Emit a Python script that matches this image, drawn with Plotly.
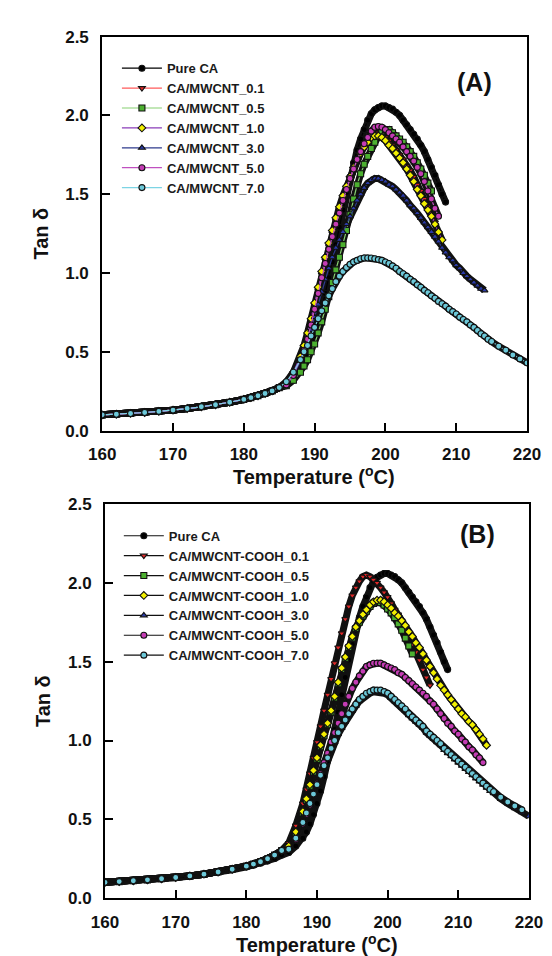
import plotly.graph_objects as go

# ---------------- data ----------------
temp = [160, 162, 164, 166, 168, 170, 172, 174, 176, 178, 180, 181, 182, 183, 184, 185, 186, 187,
        188, 188.5, 189, 189.5, 190, 190.5, 191, 191.5, 192, 192.5, 193, 193.5, 194, 194.5,
        195, 195.5, 196, 196.5, 197, 197.5, 198, 198.5, 199, 199.5, 200, 200.5, 201, 201.5,
        202, 202.5, 203, 203.5, 204, 204.5, 205, 205.5, 206, 206.5, 207, 207.5, 208, 208.5,
        209, 209.5, 210, 210.5, 211, 211.5, 212, 212.5, 213, 213.5, 214, 214.5, 215,
        216, 217, 218, 219, 220]

# tan delta at 160..185 (common low-temperature part)
low_a = [0.100, 0.104, 0.109, 0.115, 0.122, 0.130, 0.140, 0.151, 0.164, 0.180, 0.198,
         0.209, 0.221, 0.235, 0.252, 0.273]
low_b = [0.100, 0.105, 0.110, 0.116, 0.123, 0.131, 0.141, 0.152, 0.166, 0.183, 0.203,
         0.216, 0.231, 0.250, 0.273, 0.302]

# values from 186 onward
pure_ca = low_a + [0.29, 0.33,
    0.38, 0.42, 0.47, 0.53, 0.60, 0.68, 0.77, 0.87, 0.97, 1.07, 1.18, 1.29, 1.40, 1.51,
    1.61, 1.70, 1.78, 1.85, 1.91, 1.97, 2.01, 2.035, 2.05, 2.06, 2.06, 2.05, 2.04, 2.02,
    2.00, 1.97, 1.94, 1.91, 1.88, 1.85, 1.81, 1.77, 1.72, 1.67, 1.62, 1.56, 1.50, 1.45]

a_01 = low_a + [0.29, 0.36,
    0.46, 0.52, 0.60, 0.69, 0.79, 0.89, 0.99, 1.08, 1.17, 1.25, 1.33, 1.40, 1.47, 1.54,
    1.60, 1.66, 1.72, 1.77, 1.81, 1.85, 1.88, 1.89, 1.89, 1.88, 1.86, 1.84, 1.81, 1.78,
    1.75, 1.72, 1.68, 1.65, 1.61, 1.56, 1.52, 1.47, 1.42, 1.37, 1.32]

a_05 = low_a + [0.285, 0.32,
    0.37, 0.41, 0.45, 0.50, 0.55, 0.62, 0.69, 0.77, 0.85, 0.94, 1.02, 1.10, 1.18, 1.27,
    1.37, 1.47, 1.56, 1.63, 1.69, 1.74, 1.79, 1.83, 1.87, 1.90, 1.91, 1.91, 1.89, 1.87,
    1.85, 1.83, 1.80, 1.77, 1.74, 1.70, 1.66, 1.62, 1.57, 1.52]

a_10 = low_a + [0.30, 0.37,
    0.47, 0.54, 0.62, 0.71, 0.81, 0.91, 1.01, 1.10, 1.19, 1.27, 1.35, 1.42, 1.49, 1.55,
    1.61, 1.67, 1.72, 1.76, 1.80, 1.83, 1.86, 1.87, 1.87, 1.86, 1.84, 1.81, 1.79, 1.76,
    1.73, 1.70, 1.66, 1.62, 1.58, 1.53, 1.49, 1.44, 1.40, 1.36, 1.31, 1.26, 1.21]

a_30 = low_a + [0.29, 0.35,
    0.44, 0.50, 0.57, 0.64, 0.72, 0.80, 0.88, 0.96, 1.03, 1.10, 1.16, 1.21, 1.26, 1.31,
    1.36, 1.41, 1.46, 1.50, 1.54, 1.57, 1.59, 1.60, 1.60, 1.59, 1.58, 1.56, 1.55, 1.53,
    1.51, 1.49, 1.46, 1.43, 1.41, 1.38, 1.35, 1.32, 1.29, 1.26, 1.23, 1.20, 1.16, 1.13,
    1.10, 1.08, 1.05, 1.03, 1.00, 0.98, 0.96, 0.94, 0.92, 0.90, 0.89]

a_50 = low_a + [0.29, 0.35,
    0.45, 0.51, 0.58, 0.67, 0.77, 0.87, 0.97, 1.06, 1.15, 1.23, 1.31, 1.38, 1.46, 1.53,
    1.60, 1.66, 1.72, 1.77, 1.82, 1.86, 1.90, 1.925, 1.93, 1.925, 1.91, 1.89, 1.87, 1.85,
    1.83, 1.80, 1.77, 1.74, 1.71, 1.67, 1.63, 1.58, 1.52, 1.47, 1.41, 1.36]

a_70 = low_a + [0.31, 0.37,
    0.45, 0.50, 0.54, 0.60, 0.655, 0.71, 0.76, 0.81, 0.855, 0.90, 0.945, 0.98, 1.01, 1.035,
    1.055, 1.07, 1.08, 1.09, 1.095, 1.095, 1.095, 1.09, 1.085, 1.08, 1.07, 1.06, 1.045, 1.03,
    1.01, 0.995, 0.98, 0.96, 0.945, 0.925, 0.91, 0.89, 0.875, 0.855, 0.84, 0.82, 0.805, 0.79,
    0.77, 0.755, 0.74, 0.72, 0.705, 0.69, 0.67, 0.655, 0.635, 0.615, 0.60, 0.58, 0.565,
    0.535, 0.51, 0.48, 0.455, 0.43]

b_01 = low_b + [0.35, 0.46,
    0.60, 0.69, 0.79, 0.89, 0.99, 1.09, 1.19, 1.29, 1.39, 1.49, 1.59, 1.68, 1.77, 1.85,
    1.92, 1.97, 2.01, 2.04, 2.05, 2.04, 2.02, 2.00, 1.97, 1.94, 1.91, 1.87, 1.83, 1.80,
    1.76, 1.71, 1.66, 1.61, 1.56, 1.51, 1.45, 1.40, 1.35]

b_05 = low_b + [0.32, 0.41,
    0.54, 0.62, 0.71, 0.80, 0.88, 0.96, 1.03, 1.10, 1.18, 1.27, 1.36, 1.45, 1.52, 1.59,
    1.65, 1.71, 1.75, 1.79, 1.82, 1.85, 1.87, 1.88, 1.875, 1.86, 1.835, 1.81, 1.78, 1.74,
    1.70, 1.65, 1.60, 1.55]

b_10 = low_b + [0.33, 0.42,
    0.55, 0.63, 0.72, 0.81, 0.89, 0.97, 1.04, 1.11, 1.19, 1.28, 1.37, 1.46, 1.53, 1.60,
    1.66, 1.72, 1.76, 1.80, 1.83, 1.86, 1.88, 1.89, 1.89, 1.88, 1.86, 1.84, 1.81, 1.79,
    1.76, 1.73, 1.69, 1.66, 1.62, 1.59, 1.55, 1.51, 1.47, 1.43, 1.39, 1.35, 1.32, 1.29,
    1.26, 1.23, 1.20, 1.17, 1.15, 1.12, 1.10, 1.07, 1.04, 1.01, 0.97]

b_30 = low_b + [0.30, 0.37,
    0.47, 0.53, 0.59, 0.65, 0.71, 0.77, 0.83, 0.88, 0.94, 0.99, 1.04, 1.08, 1.12, 1.16,
    1.19, 1.22, 1.25, 1.27, 1.29, 1.30, 1.31, 1.31, 1.31, 1.30, 1.29, 1.27, 1.25, 1.23,
    1.21, 1.19, 1.16, 1.14, 1.12, 1.10, 1.08, 1.05, 1.03, 1.01, 0.99, 0.97, 0.94, 0.92,
    0.90, 0.88, 0.86, 0.84, 0.82, 0.80, 0.78, 0.76, 0.74, 0.72, 0.70, 0.68, 0.665,
    0.63, 0.60, 0.57, 0.545, 0.52]

b_50 = low_b + [0.31, 0.37,
    0.47, 0.53, 0.59, 0.66, 0.73, 0.79, 0.86, 0.92, 0.99, 1.05, 1.11, 1.17, 1.23, 1.28,
    1.33, 1.37, 1.41, 1.44, 1.47, 1.48, 1.49, 1.49, 1.49, 1.48, 1.47, 1.46, 1.45, 1.43,
    1.42, 1.40, 1.38, 1.36, 1.34, 1.32, 1.30, 1.28, 1.25, 1.23, 1.20, 1.17, 1.14, 1.11,
    1.09, 1.06, 1.04, 1.01, 0.99, 0.96, 0.94, 0.91, 0.89, 0.86]

b_70 = low_b + [0.31, 0.38,
    0.48, 0.54, 0.60, 0.66, 0.72, 0.78, 0.84, 0.89, 0.95, 1.00, 1.05, 1.09, 1.13, 1.17,
    1.20, 1.23, 1.26, 1.28, 1.30, 1.31, 1.32, 1.32, 1.32, 1.31, 1.30, 1.28, 1.26, 1.24,
    1.22, 1.20, 1.17, 1.15, 1.13, 1.11, 1.09, 1.06, 1.04, 1.02, 1.00, 0.98, 0.95, 0.93,
    0.91, 0.89, 0.87, 0.85, 0.83, 0.81, 0.79, 0.77, 0.75, 0.73, 0.71, 0.69, 0.675,
    0.64, 0.61, 0.585, 0.56]

names_a = ["Pure CA", "CA/MWCNT_0.1", "CA/MWCNT_0.5", "CA/MWCNT_1.0",
           "CA/MWCNT_3.0", "CA/MWCNT_5.0", "CA/MWCNT_7.0"]
names_b = ["Pure CA", "CA/MWCNT-COOH_0.1", "CA/MWCNT-COOH_0.5", "CA/MWCNT-COOH_1.0",
           "CA/MWCNT-COOH_3.0", "CA/MWCNT-COOH_5.0", "CA/MWCNT-COOH_7.0"]
series_a = [pure_ca, a_01, a_05, a_10, a_30, a_50, a_70]
series_b = [pure_ca, b_01, b_05, b_10, b_30, b_50, b_70]

x_ticks = [160, 170, 180, 190, 200, 210, 220]
y_ticks = [0.0, 0.5, 1.0, 1.5, 2.0, 2.5]

# ---------------- styles ----------------
symbols = ["circle", "triangle-down", "square", "diamond", "triangle-up", "circle", "circle"]
fills = ["#000000", "#e02828", "#4cb030", "#f2f000", "#2a3aa8", "#c43cb4", "#6cc8d8"]
lines_a = ["#000000", "#ff5a5a", "#86d070", "#8a3cb8", "#2e3a8c", "#c050c0", "#7cd4e4"]
FONT = "Arial, Liberation Sans, sans-serif"

fig = go.Figure()

def add_bands(series, xa, ya, legend):
    # dark outline band underneath each curve (dense black-edged markers in the original)
    for vals in series:
        xs = temp[:len(vals)]
        fig.add_trace(go.Scatter(x=xs, y=vals, xaxis=xa, yaxis=ya, mode="lines",
                                 line=dict(color="#111111", width=7),
                                 showlegend=False, hoverinfo="skip", legend=legend))

def add_markers(series, names, xa, ya, legend, line_colors):
    for i, (vals, nm) in enumerate(zip(series, names)):
        xs = temp[:len(vals)]
        fig.add_trace(go.Scatter(x=xs, y=vals, xaxis=xa, yaxis=ya, name=nm,
                                 mode="lines+markers", legend=legend,
                                 line=dict(color=line_colors[i], width=1.2),
                                 marker=dict(symbol=symbols[i], size=6, color=fills[i],
                                             line=dict(color="#111111", width=1.1))))

add_bands(series_a, "x", "y", "legend")
add_markers(series_a, names_a, "x", "y", "legend", lines_a)
add_bands(series_b, "x2", "y2", "legend2")
add_markers(series_b, names_b, "x2", "y2", "legend2", ["#111111"] * 7)

W, H = 552, 956
ax_common = dict(showline=True, linewidth=2, linecolor="black", mirror=True,
                 showgrid=False, zeroline=False, ticks="inside", ticklen=8,
                 tickwidth=1.5, tickcolor="black",
                 tickfont=dict(family=FONT, size=17, color="#111", weight="bold"))

leg_font = dict(family=FONT, size=13, color="#1a1a1a", weight="bold")
fig.update_layout(
    width=W, height=H, margin=dict(l=0, r=0, t=0, b=0),
    paper_bgcolor="white", plot_bgcolor="white",
    xaxis=dict(domain=[84.5 / W, 532 / W], anchor="y", range=[160, 220],
               tickvals=x_ticks, ticklabelstandoff=7, **ax_common),
    yaxis=dict(domain=[1 - 422 / H, 1 - 20 / H], anchor="x", range=[0, 2.5],
               tickvals=y_ticks, tickformat=".1f", ticklabelstandoff=8, **ax_common),
    xaxis2=dict(domain=[87.5 / W, 534 / W], anchor="y2", range=[160, 220],
                tickvals=x_ticks, ticklabelstandoff=7, **ax_common),
    yaxis2=dict(domain=[1 - 899 / H, 1 - 497 / H], anchor="x2", range=[0, 2.5],
                tickvals=y_ticks, tickformat=".1f", ticklabelstandoff=8, **ax_common),
    legend=dict(x=100 / W, y=1 - 37 / H, xanchor="left", yanchor="top", itemwidth=40,
                bgcolor="rgba(0,0,0,0)", font=leg_font, tracegroupgap=0),
    legend2=dict(x=102 / W, y=1 - 514 / H, xanchor="left", yanchor="top", itemwidth=40,
                 bgcolor="rgba(0,0,0,0)", font=leg_font, tracegroupgap=0),
)

title_font = dict(family=FONT, size=20, color="#111", weight="bold")
annots = [
    dict(text="Tan δ", x=20 / W, y=1 - 221 / H, textangle=-90),
    dict(text="Tan δ", x=22 / W, y=1 - 698 / H, textangle=-90),
    dict(text="Temperature (<sup>o</sup>C)", x=308 / W, y=1 - 468 / H),
    dict(text="Temperature (<sup>o</sup>C)", x=311 / W, y=1 - 945 / H),
]
for a in annots:
    fig.add_annotation(xref="paper", yref="paper", showarrow=False,
                       xanchor="center", yanchor="middle", font=title_font, **a)
fig.add_annotation(text="(A)", x=497 / W, y=1 - 50 / H, xref="paper", yref="paper",
                   showarrow=False, font=dict(family=FONT, size=25, color="#111", weight="bold"))
fig.add_annotation(text="(B)", x=500 / W, y=1 - 527 / H, xref="paper", yref="paper",
                   showarrow=False, font=dict(family=FONT, size=25, color="#111", weight="bold"))

fig.write_html("out.html")
